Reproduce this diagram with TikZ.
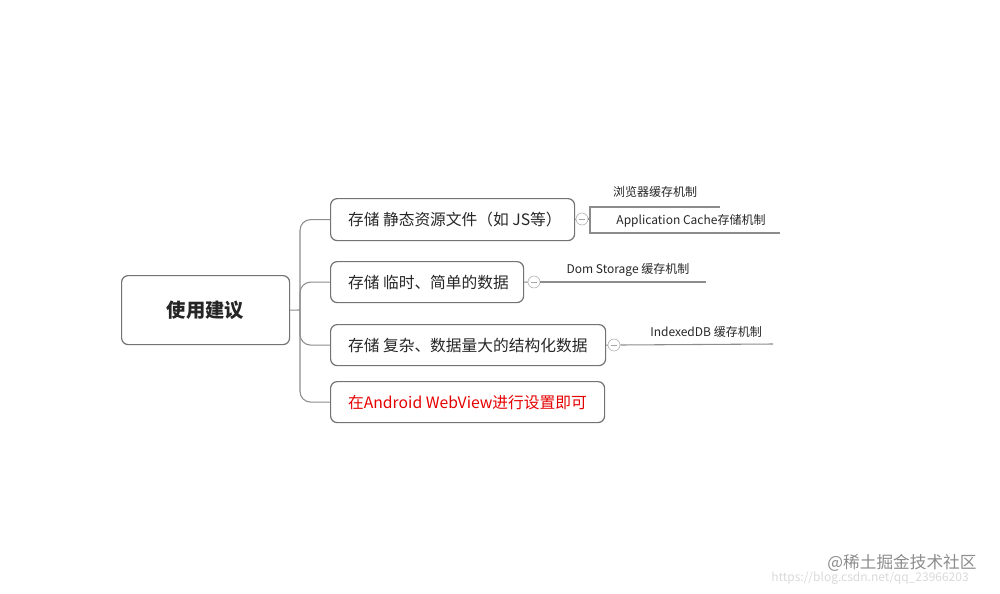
\documentclass[tikz,border=0pt]{standalone}
\usepackage{fontspec}
\setmainfont{Noto Sans CJK SC}
\begin{document}
\begin{tikzpicture}[x=0.75pt,y=-0.75pt,
  box/.style={draw=black!55,line width=0.9pt,rounded corners=5pt,inner sep=0pt,anchor=north west},
  conn/.style={draw=black!45,line width=0.8pt,rounded corners=8pt},
  leafline/.style={draw=black!45,line width=0.8pt},
  col/.style={draw=black!35,fill=white,circle,minimum size=9pt,inner sep=0pt},
  ctext/.style={font=\fontsize{11.8pt}{14pt}\selectfont,text=black!85},
  ltext/.style={font=\fontsize{9pt}{11pt}\selectfont,text=black!85}]
\useasboundingbox (0,0) rectangle (1000,593);
\node[box,minimum width=168*0.75pt,minimum height=69*0.75pt] (root) at (121,275) {};
\node[font=\bfseries\fontsize{14.5pt}{17pt}\selectfont,text=black!85] at (root.center) {使用建议};
\node[box,minimum width=244*0.75pt,minimum height=42*0.75pt] (c1) at (330,198) {};
\node[box,minimum width=193*0.75pt,minimum height=41*0.75pt] (c2) at (330,261) {};
\node[box,minimum width=275*0.75pt,minimum height=41*0.75pt] (c3) at (330,324) {};
\node[box,minimum width=274*0.75pt,minimum height=41*0.75pt] (c4) at (330,381) {};
\node[ctext,anchor=west] at ([xshift=10pt]c1.west) {存储 静态资源文件（如 JS等）};
\node[ctext,anchor=west] at ([xshift=10pt]c2.west) {存储 临时、简单的数据};
\node[ctext,anchor=west] at ([xshift=10pt]c3.west) {存储 复杂、数据量大的结构化数据};
\node[ctext,anchor=west,text=red!90!black] at ([xshift=10pt]c4.west) {在Android WebView进行设置即可};
\coordinate (j) at (300,310);
\draw[conn] (root.east) -- (j);
\draw[conn] (j) |- (c1.west);
\draw[conn] (j) |- (c2.west);
\draw[conn] (j) |- (c3.west);
\draw[conn] (j) |- (c4.west);
% collapse markers
\node[col] (k1) at (582,219) {};
\node[col] (k2) at (534,282) {};
\node[col] (k3) at (614,345) {};
\foreach \k in {k1,k2,k3}{\draw[black!35,line width=0.6pt] ([xshift=-2.5pt]\k.center) -- ([xshift=2.5pt]\k.center);}
% leaves
\coordinate (b1) at (590,207);
\coordinate (b2) at (590,233);
\coordinate (e1) at (720,207);
\coordinate (e2) at (780,233);
\draw[leafline] (c1.east) -- (k1.west);
\draw[leafline] (k1.east) -- (590,219);
\draw[leafline] (e1) -- (b1) -- (b2) -- (e2);
\node[ltext] at (655,192) {浏览器缓存机制};
\node[ltext] at (691,221) {Application Cache存储机制};
\coordinate (e3) at (706,282);
\draw[leafline] (c2.east) -- (k2.west);
\draw[leafline] (k2.east) -- (e3);
\node[ltext] at (628,270) {Dom Storage 缓存机制};
\coordinate (e4) at (773,344);
\draw[leafline] (c3.east) -- (k3.west);
\draw[leafline] (k3.east) -- (e4);
\node[ltext] at (706,332) {IndexedDB 缓存机制};
% watermark
\node[font=\fontsize{9pt}{11pt}\selectfont,text=black!15] (url) at (870,578) {https://blog.csdn.net/qq\_23966203};
\node[font=\fontsize{12.5pt}{14pt}\selectfont,text=black!45] (wm) at (902,563) {@稀土掘金技术社区};
\end{tikzpicture}
\end{document}
